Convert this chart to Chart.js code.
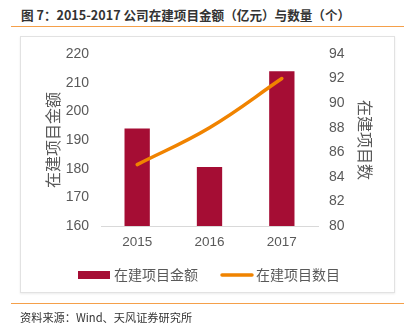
<!DOCTYPE html>
<html>
<head>
<meta charset="utf-8">
<script src="https://cdn.jsdelivr.net/npm/chart.js@4/dist/chart.umd.min.js"></script>
<style>
  html, body { margin: 0; padding: 0; background: #fff; }
  #wrap { position: relative; width: 419px; height: 335px; overflow: hidden; }
  #title {
    position: absolute; left: 21px; top: 5px;
    font: bold 12.6px "Noto Sans CJK SC", "Liberation Sans", sans-serif;
    color: #333; white-space: nowrap;
  }
  .rule { position: absolute; left: 11px; width: 393px; height: 0; border-top: 1px solid #f5a04a; }
  #frame {
    position: absolute; left: 20px; top: 36px; width: 375px; height: 257px;
    border: 1px solid #e2e2e2; box-sizing: border-box;
    box-shadow: 0 1px 2px rgba(0,0,0,0.08);
  }
  #source {
    position: absolute; left: 20px; top: 309px;
    font: 11.2px "Noto Sans CJK SC", "Liberation Sans", sans-serif;
    color: #333; white-space: nowrap;
  }
  canvas { position: absolute; left: 0; top: 0; }
</style>
</head>
<body>
<div id="wrap">
  <div id="title">图 7：2015-2017 公司在建项目金额（亿元）与数量（个）</div>
  <div class="rule" style="top:26px"></div>
  <div id="frame"></div>
  <canvas id="c" width="419" height="335"></canvas>
  <div class="rule" style="top:303px"></div>
  <div id="source">资料来源：Wind、天风证券研究所</div>
</div>
<script>
// Years on the x axis
const years = ['2015', '2016', '2017'];
// Amount of projects under construction (亿元), left axis
const amountLabel = '在建项目金额';
const amountValues = [194, 180.6, 214];
// Number of projects under construction (个), right axis
const countLabel = '在建项目数目';
const countValues = [85, 88, 92];
// Axis titles
const leftTitle = '在建项目金额';
const rightTitle = '在建项目数';

const barColor = '#a50d34';
const lineColor = '#f08300';
const tickColor = '#595959';
const numFont = { family: '"Liberation Sans", Arial, sans-serif', size: 14 };
const xFont = { family: '"Liberation Sans", Arial, sans-serif', size: 13.5 };
const cjkFont = { family: '"Noto Sans CJK SC", sans-serif', size: 16 };

// Legend drawn below the plot: a filled swatch for the bars, a stroke for the line
const legendPlugin = {
  id: 'bottomLegend',
  afterDraw(chart) {
    const ctx = chart.ctx;
    const y = 275;
    ctx.save();
    ctx.font = '14px "Noto Sans CJK SC", sans-serif';
    ctx.textBaseline = 'middle';
    // bar entry
    ctx.fillStyle = barColor;
    ctx.fillRect(78, y - 4, 32, 8);
    ctx.fillStyle = tickColor;
    ctx.fillText(chart.data.datasets[0].label, 114, y);
    // line entry
    ctx.strokeStyle = lineColor;
    ctx.lineWidth = 3.5;
    ctx.lineCap = 'round';
    ctx.beginPath();
    ctx.moveTo(222, y);
    ctx.lineTo(252, y);
    ctx.stroke();
    ctx.fillText(chart.data.datasets[1].label, 256, y);
    ctx.restore();
  }
};

new Chart(document.getElementById('c'), {
  data: {
    labels: years,
    datasets: [
      {
        type: 'bar',
        label: amountLabel,
        data: amountValues,
        backgroundColor: barColor,
        yAxisID: 'y',
        barPercentage: 0.35,
        categoryPercentage: 1,
        order: 2
      },
      {
        type: 'line',
        label: countLabel,
        data: countValues,
        borderColor: lineColor,
        backgroundColor: lineColor,
        borderWidth: 3.5,
        borderCapStyle: 'round',
        pointRadius: 0,
        tension: 0.4,
        yAxisID: 'y1',
        order: 1
      }
    ]
  },
  options: {
    responsive: false,
    animation: false,
    devicePixelRatio: 1,
    layout: { padding: { left: 20, right: 24, top: 54, bottom: 0 } },
    plugins: { legend: { display: false }, tooltip: { enabled: false } },
    scales: {
      x: {
        offset: true,
        grid: { display: false, drawTicks: false },
        border: { display: true, color: '#d9d9d9', width: 1 },
        ticks: { color: tickColor, font: xFont, padding: 8 },
        afterFit(s) { s.height = 109; }
      },
      y: {
        position: 'left',
        min: 160, max: 220,
        grid: { display: false, drawTicks: false },
        border: { display: false },
        ticks: { stepSize: 10, color: tickColor, font: numFont, padding: 12 },
        title: { display: true, text: leftTitle, color: tickColor, font: cjkFont, padding: { top: 23, bottom: 0 } },
        afterFit(s) { s.width = 81; }
      },
      y1: {
        position: 'right',
        min: 80, max: 94,
        grid: { display: false, drawTicks: false },
        border: { display: false },
        ticks: { stepSize: 2, color: tickColor, font: numFont, padding: 11 },
        title: { display: true, text: rightTitle, color: tickColor, font: cjkFont, padding: { top: 20, bottom: 0 } },
        afterFit(s) { s.width = 77; }
      }
    }
  },
  plugins: [legendPlugin]
});
</script>
</body>
</html>
